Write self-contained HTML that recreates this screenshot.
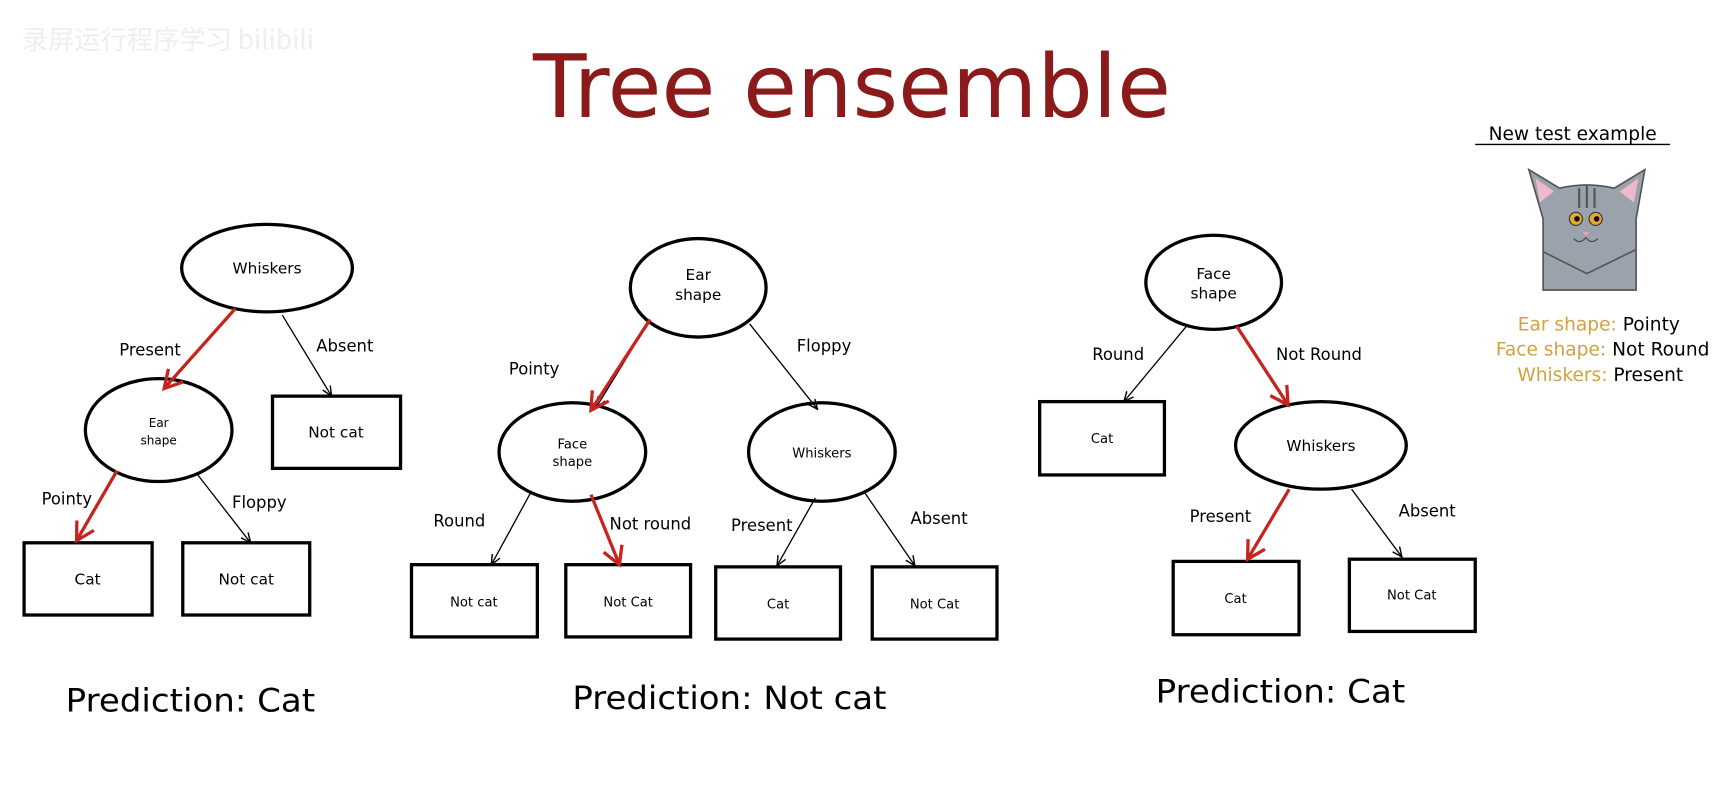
<!DOCTYPE html>
<html><head><meta charset="utf-8"><style>html,body{margin:0;padding:0;background:#fff;}svg{display:block}</style></head>
<body>
<svg width="1716" height="812" viewBox="0 0 1568 742" preserveAspectRatio="none" xmlns="http://www.w3.org/2000/svg" font-family="DejaVu Sans, Liberation Sans, sans-serif">
<defs>
<marker id="ab" markerWidth="10" markerHeight="10" refX="9" refY="5" orient="auto" markerUnits="userSpaceOnUse"><path d="M0,1 L9,5 L0,9" fill="none" stroke="#000" stroke-width="1.3"/></marker>
<marker id="ar" markerWidth="22" markerHeight="22" refX="18" refY="11" orient="auto" markerUnits="userSpaceOnUse"><path d="M2,2 L18,11 L2,20" fill="none" stroke="#c8231e" stroke-width="3"/></marker>
</defs>
<text x="20" y="45" font-size="24" fill="#eee" font-family="Noto Sans CJK SC, sans-serif">录屏运行程序学习 bilibili</text>
<text x="487" y="107" font-size="80" fill="#8b1a1a" textLength="583" lengthAdjust="spacingAndGlyphs">Tree ensemble</text>

<g fill="#fff" stroke="#000" stroke-width="3">
<ellipse cx="244" cy="245" rx="78" ry="40"/>
<ellipse cx="145" cy="393" rx="67" ry="47"/>
<rect x="249" y="362" width="117" height="66"/>
<rect x="22" y="496" width="117" height="66"/>
<rect x="167" y="496" width="116" height="66"/>
<ellipse cx="638" cy="263" rx="62" ry="45"/>
<ellipse cx="523" cy="413" rx="67" ry="45"/>
<ellipse cx="751" cy="413" rx="67" ry="45"/>
<rect x="376" y="516" width="115" height="66"/>
<rect x="517" y="516" width="114" height="66"/>
<rect x="654" y="518" width="114" height="66"/>
<rect x="797" y="518" width="114" height="66"/>
<ellipse cx="1109" cy="258" rx="62" ry="43"/>
<ellipse cx="1207" cy="407" rx="78" ry="40"/>
<rect x="950" y="367" width="114" height="67"/>
<rect x="1072" y="513" width="115" height="67"/>
<rect x="1233" y="511" width="115" height="66"/>
</g>

<g stroke="#000" stroke-width="1.2" fill="none" marker-end="url(#ab)">
<line x1="258" y1="288" x2="303" y2="362"/>
<line x1="180" y1="433" x2="229" y2="496"/>
<line x1="685" y1="296" x2="747" y2="374"/>
<line x1="485" y1="450" x2="449" y2="516"/>
<line x1="745" y1="455" x2="710" y2="517"/>
<line x1="790" y1="450" x2="836" y2="517"/>
<line x1="1085" y1="297" x2="1027" y2="367"/>
<line x1="1235" y1="447" x2="1281" y2="509"/>
<line x1="594" y1="292" x2="545" y2="372"/>
</g>
<g stroke="#c8231e" stroke-width="3" fill="none" marker-end="url(#ar)">
<line x1="215" y1="282" x2="150" y2="355"/>
<line x1="107" y1="430" x2="70" y2="494"/>
<line x1="594" y1="292" x2="540" y2="375"/>
<line x1="540" y1="452" x2="566" y2="516"/>
<line x1="1130" y1="298" x2="1177" y2="370"/>
<line x1="1178" y1="447" x2="1140" y2="511"/>
</g>

<g font-size="14" fill="#000" text-anchor="middle">
<text x="244" y="250">Whiskers</text>
<text x="145" y="390" font-size="11">Ear</text><text x="145" y="406" font-size="11">shape</text>
<text x="307" y="400">Not cat</text>
<text x="80" y="534">Cat</text>
<text x="225" y="534">Not cat</text>
<text x="638" y="256">Ear</text><text x="638" y="274">shape</text>
<text x="523" y="410" font-size="12">Face</text><text x="523" y="426" font-size="12">shape</text>
<text x="751" y="418" font-size="12">Whiskers</text>
<text x="433" y="554" font-size="12">Not cat</text>
<text x="574" y="554" font-size="12">Not Cat</text>
<text x="711" y="556" font-size="12">Cat</text>
<text x="854" y="556" font-size="12">Not Cat</text>
<text x="1109" y="255">Face</text><text x="1109" y="273">shape</text>
<text x="1207" y="412">Whiskers</text>
<text x="1007" y="405" font-size="12">Cat</text>
<text x="1129" y="551" font-size="12">Cat</text>
<text x="1290" y="548" font-size="12">Not Cat</text>
</g>
<g font-size="15" fill="#000">
<text x="109" y="325">Present</text>
<text x="289" y="321">Absent</text>
<text x="38" y="461">Pointy</text>
<text x="212" y="464">Floppy</text>
<text x="465" y="342">Pointy</text>
<text x="728" y="321">Floppy</text>
<text x="396" y="481">Round</text>
<text x="557" y="484">Not round</text>
<text x="668" y="485">Present</text>
<text x="832" y="479">Absent</text>
<text x="998" y="329">Round</text>
<text x="1166" y="329">Not Round</text>
<text x="1087" y="477">Present</text>
<text x="1278" y="472">Absent</text>
</g>
<g font-size="29" fill="#000">
<text x="60" y="650" textLength="228" lengthAdjust="spacingAndGlyphs">Prediction: Cat</text>
<text x="523" y="648" textLength="287" lengthAdjust="spacingAndGlyphs">Prediction: Not cat</text>
<text x="1056" y="642" textLength="228" lengthAdjust="spacingAndGlyphs">Prediction: Cat</text>
</g>

<text x="1437" y="128" font-size="17" text-anchor="middle" fill="#000">New test example</text>
<line x1="1348" y1="132" x2="1526" y2="132" stroke="#000" stroke-width="1.2"/>
<g>
<path d="M1397,155 L1425,172 Q1450,166 1475,172 L1503,155 L1495,200 L1495,265 L1410,265 L1410,200 Z" fill="#9aa3ab" stroke="#555" stroke-width="1.5"/>
<path d="M1403,163 L1420,175 L1407,185 Z M1497,163 L1480,175 L1493,185 Z" fill="#f0b8cc"/>
<path d="M1410,230 L1450,250 L1495,228" fill="none" stroke="#555" stroke-width="1.5"/>
<circle cx="1440" cy="200" r="6" fill="#e8a830" stroke="#333"/><circle cx="1458" cy="200" r="6" fill="#e8a830" stroke="#333"/>
<circle cx="1441" cy="200" r="2.5" fill="#000"/><circle cx="1459" cy="200" r="2.5" fill="#000"/>
<path d="M1446,212 L1452,212 L1449,216 Z" fill="#f0a0b8"/>
<path d="M1438,218 Q1444,224 1449,217 Q1454,224 1460,218" fill="none" stroke="#444"/>
<path d="M1443,172 L1443,190 M1450,170 L1450,190 M1457,172 L1457,190" stroke="#555" stroke-width="2"/>
</g>
<g font-size="17" text-anchor="end">
<text x="1535" y="302"><tspan fill="#d4a040">Ear shape: </tspan><tspan fill="#000">Pointy</tspan></text>
<text x="1562" y="325"><tspan fill="#d4a040">Face shape: </tspan><tspan fill="#000">Not Round</tspan></text>
<text x="1538" y="348"><tspan fill="#d4a040">Whiskers: </tspan><tspan fill="#000">Present</tspan></text>
</g>
</svg>
</body></html>
